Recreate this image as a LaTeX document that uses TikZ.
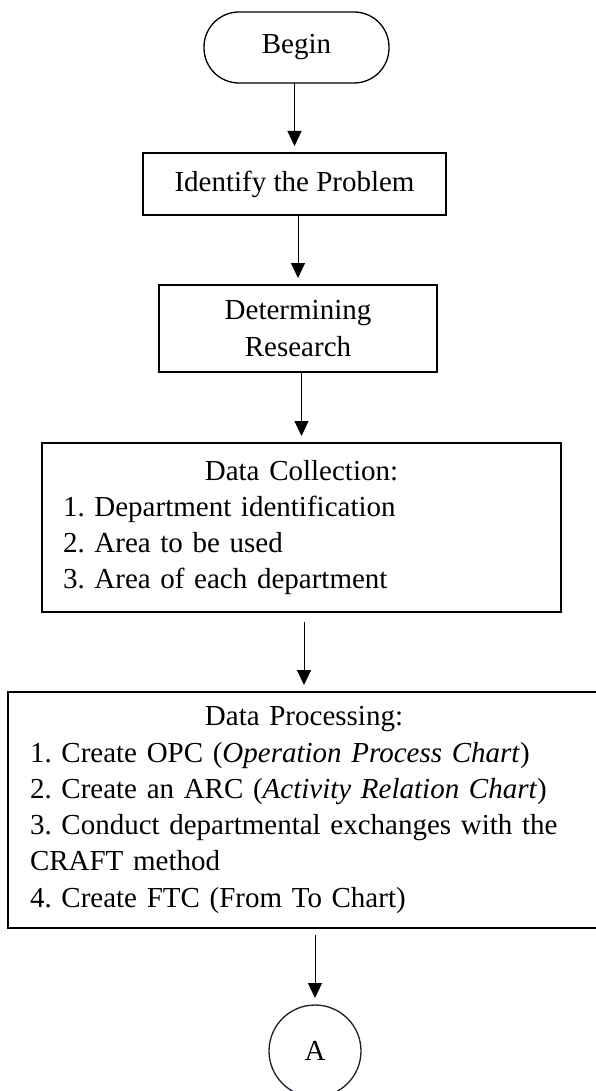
\documentclass[tikz,border=0pt]{standalone}
\usepackage{xcolor}
\usepackage{fontspec}
\setmainfont{Liberation Serif}
\usetikzlibrary{arrows.meta,positioning}
\definecolor{circline}{RGB}{25,30,45}

\begin{document}
\begin{tikzpicture}[
    every node/.style={font=\fontsize{29}{36.3}\selectfont\frenchspacing, outer sep=0pt},
    terminal/.style={rectangle, draw, line width=1.3pt, rounded corners=35pt, minimum width=185pt, minimum height=71pt},
    block/.style={rectangle, draw, line width=2pt, align=center, inner sep=0pt},
    listbox/.style={rectangle, draw, line width=2pt, align=left, inner ysep=0pt},
    connector/.style={circle, draw=circline, line width=1.3pt, minimum size=92pt, inner sep=0pt},
    arrow/.style={-{Triangle[length=15pt,width=14pt]}, line width=1pt, shorten >=7pt},
]
\useasboundingbox (0,0) rectangle (595pt,-1091pt);

% Start
\node[terminal] (begin) at (296.5pt,-47.5pt) {Begin};

% Steps
\node[block, minimum width=303pt, minimum height=62pt, below=70pt of begin, xshift=-2pt] (problem) {Identify the Problem};
\node[block, minimum width=278pt, minimum height=87pt, below=70pt of problem, xshift=3.5pt] (research) {Determining\\Research};

% Data collection
\node[listbox, text width=477pt, inner xsep=21pt, minimum height=169pt, below=71pt of research, xshift=3.5pt] (collect) {\makebox[\linewidth]{Data Collection:}\\
1. Department identification\\
2. Area to be used\\
3. Area of each department};

% Data processing
\node[listbox, text width=548pt, inner xsep=22pt, minimum height=236pt, below=80pt of collect, xshift=2.5pt] (process) {\makebox[\linewidth]{Data Processing:}\\
1. Create OPC (\textit{Operation Process Chart})\\
2. Create an ARC (\textit{Activity Relation Chart})\\
3. Conduct departmental exchanges with the\\
CRAFT method\\
4. Create FTC (From To Chart)};

% Off-page connector
\node[connector, below=77pt of process, xshift=11pt] (conA) {A};

% Arrows
\draw[arrow] (problem.north |- begin.south) -- (problem.north);
\draw[arrow] (research.north |- problem.south) -- (research.north);
\draw[arrow] (collect.north |- research.south) -- (collect.north);
\draw[arrow, shorten <=10pt] (process.north |- collect.south) -- (process.north);
\draw[arrow, shorten <=7pt] (conA.north |- process.south) -- (conA.north);

\end{tikzpicture}
\end{document}
